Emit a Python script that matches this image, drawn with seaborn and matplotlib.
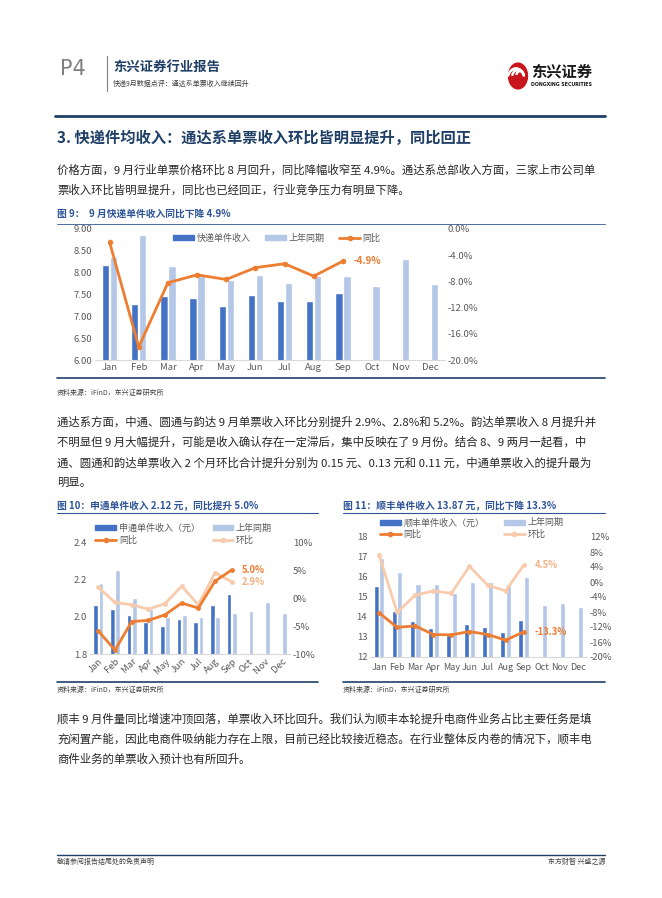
import numpy as np
import pandas as pd
import seaborn as sns
import matplotlib.pyplot as plt
from matplotlib.lines import Line2D
from matplotlib.patches import Patch, Circle, Wedge
from matplotlib.ticker import MultipleLocator, FuncFormatter

sns.set_theme(style="white")
plt.rcParams['font.family'] = ['Noto Sans CJK SC', 'DejaVu Sans']

W, H = 662, 898
months = ["Jan", "Feb", "Mar", "Apr", "May", "Jun", "Jul", "Aug", "Sep", "Oct", "Nov", "Dec"]

# 图9 快递单件收入
f9_cur = [8.18, 7.28, 7.47, 7.42, 7.24, 7.48, 7.35, 7.35, 7.53]
f9_prev = [8.36, 8.87, 8.15, 7.93, 7.84, 7.95, 7.76, 7.93, 7.93, 7.70, 8.31, 7.74]
f9_yoy = [-2.0, -18.0, -8.2, -7.0, -7.7, -5.9, -5.3, -7.2, -4.9]

# 图10 申通
st_cur = [2.06, 2.04, 2.01, 1.97, 1.95, 1.99, 1.97, 2.06, 2.12]
st_prev = [2.18, 2.25, 2.10, 2.04, 2.00, 2.01, 2.00, 2.00, 2.02, 2.03, 2.08, 2.02]
st_yoy = [-5.9, -9.3, -4.2, -4.0, -3.0, -0.9, -1.8, 3.0, 5.0]
st_mom = [1.9, -0.8, -1.2, -2.0, -1.0, 2.1, -1.2, 4.5, 2.9]

# 图11 顺丰
sf_cur = [15.57, 14.32, 13.80, 13.47, 13.10, 13.65, 13.52, 13.25, 13.87]
sf_prev = [16.95, 16.25, 15.63, 15.63, 15.20, 15.73, 15.73, 15.63, 15.98, 14.60, 14.70, 14.52]
sf_yoy = [-8.2, -12.1, -11.7, -14.0, -14.1, -13.2, -14.0, -15.5, -13.3]
sf_mom = [7.2, -8.1, -3.5, -2.4, -3.0, 4.2, -0.8, -2.4, 4.5]

C_CUR = "#4472C4"
C_PREV = "#B4C7E7"
C_YOY = "#ED7D31"
C_MOM = "#F8CBAD"
NAVY = "#1F3F66"
TBLUE = "#2F5597"
GRAY = "#595959"

fig = plt.figure(figsize=(W / 100, H / 100), dpi=100)
fig.patch.set_facecolor("white")


def fx(x):
    return x / W


def fy(y):
    return 1 - y / H


def hline(x0, x1, y, color, lw):
    fig.add_artist(Line2D([fx(x0), fx(x1)], [fy(y), fy(y)], color=color, lw=lw,
                          transform=fig.transFigure))


def txt(x, y, s, **kw):
    kw.setdefault("va", "center")
    fig.text(fx(x), fy(y), s, **kw)


def make_axes(l, t, r, b):
    return fig.add_axes([fx(l), fy(b), (r - l) / W, (b - t) / H])


def bars(ax, cur, prev, names, width, gap):
    n_missing = len(months) - len(cur)
    df = pd.DataFrame({
        "month": months * 2,
        "series": [names[0]] * 12 + [names[1]] * 12,
        "value": list(cur) + [np.nan] * n_missing + list(prev),
    })
    sns.barplot(data=df, x="month", y="value", hue="series", palette=[C_CUR, C_PREV],
                width=width, gap=gap, saturation=1, errorbar=None, legend=False, ax=ax)
    ax.set_xlabel("")
    ax.set_ylabel("")


def style(ax, ax2, fs=6.8):
    for a in (ax, ax2):
        for s in a.spines.values():
            s.set_visible(False)
        a.tick_params(length=0, labelsize=fs, labelcolor=GRAY, pad=2)
        a.grid(False)
    ax.spines["bottom"].set_visible(True)
    ax.spines["bottom"].set_color("#D9D9D9")
    ax.spines["bottom"].set_linewidth(0.8)
    ax.set_xlim(-0.5, 11.5)


def line_handle(color):
    return Line2D([], [], color=color, lw=2, marker="o", markersize=3)


# ---------------- header ----------------
txt(60, 69, "P4", fontsize=15, color="#7F7F7F", family=["DejaVu Sans"])
fig.add_artist(Line2D([fx(107), fx(107)], [fy(56), fy(91)], color="#7F7F7F", lw=0.8,
                      transform=fig.transFigure))
txt(113, 68, "东兴证券行业报告", fontsize=9.6, color=NAVY, fontweight="bold")
txt(113, 84, "快递9月数据点评：通达系单票收入继续回升", fontsize=5, color="#404040")
logo_c = (fx(518), fy(76))
fig.add_artist(Circle(logo_c, 9.5 / W, transform=fig.transFigure, color="#C8161D"))
for k in range(3):
    fig.add_artist(Wedge((fx(516 + k * 2), fy(80 - k * 2)), (9 - k * 2.4) / W, 20, 160,
                         width=1.0 / W, transform=fig.transFigure, color="white"))
txt(531, 72, "东兴证券", fontsize=11, color="#1A1A1A", fontweight="bold")
txt(531, 84, "DONGXING SECURITIES", fontsize=3.4, color="#1A1A1A", fontweight="bold",
    family=["DejaVu Sans"])
hline(55, 605, 116, NAVY, 2.0)

# ---------------- section ----------------
txt(57, 138, "3. 快递件均收入：通达系单票收入环比皆明显提升，同比回正", fontsize=11,
    color=NAVY, fontweight="bold")

body = dict(fontsize=8.2, color="#262626")
p1 = ["价格方面，9 月行业单票价格环比 8 月回升，同比降幅收窄至 4.9%。通达系总部收入方面，三家上市公司单",
      "票收入环比皆明显提升，同比也已经回正，行业竞争压力有明显下降。"]
for i, s in enumerate(p1):
    txt(57, 170 + i * 20, s, **body)

# ---------------- figure 9 ----------------
txt(57, 214, "图 9：  9 月快递单件收入同比下降 4.9%", fontsize=7, color=TBLUE, fontweight="bold")
hline(57, 605, 224, TBLUE, 0.6)
ax9 = make_axes(95, 229, 445, 360)
bars(ax9, f9_cur, f9_prev, ["快递单件收入", "上年同期"], 0.55, 0.1)
ax9b = ax9.twinx()
sns.lineplot(x=np.arange(len(f9_yoy)), y=f9_yoy, ax=ax9b, color=C_YOY, lw=2,
             marker="o", markersize=4, markeredgewidth=0)
style(ax9, ax9b)
ax9.set_ylim(6, 9)
ax9.yaxis.set_major_locator(MultipleLocator(0.5))
ax9.yaxis.set_major_formatter(FuncFormatter(lambda v, p: f"{v:.2f}"))
ax9b.set_ylim(-20, 0)
ax9b.yaxis.set_major_locator(MultipleLocator(4))
ax9b.yaxis.set_major_formatter(FuncFormatter(lambda v, p: f"{v:.1f}%"))
ax9b.text(8.35, f9_yoy[-1], f"{f9_yoy[-1]:.1f}%", color=C_YOY, fontsize=7, fontweight="bold",
          va="center", ha="left")
h9 = [Patch(color=C_CUR), Patch(color=C_PREV), line_handle(C_YOY)]
ax9b.legend(h9, ["快递单件收入", "上年同期", "同比"], ncol=3, loc="center",
            bbox_to_anchor=(0.52, 0.93), frameon=False, fontsize=6.5, handlelength=2.3,
            handleheight=0.45, handletextpad=0.3, columnspacing=1.6, labelcolor=GRAY)
hline(57, 605, 378, NAVY, 1.2)
txt(57, 393, "资料来源：iFinD，东兴证券研究所", fontsize=5, color="#404040", style="italic")

p2 = ["通达系方面，中通、圆通与韵达 9 月单票收入环比分别提升 2.9%、2.8%和 5.2%。韵达单票收入 8 月提升并",
      "不明显但 9 月大幅提升，可能是收入确认存在一定滞后，集中反映在了 9 月份。结合 8、9 两月一起看，中",
      "通、圆通和韵达单票收入 2 个月环比合计提升分别为 0.15 元、0.13 元和 0.11 元，中通单票收入的提升最为",
      "明显。"]
for i, s in enumerate(p2):
    txt(57, 422 + i * 20.3, s, **body)

# ---------------- figure 10 ----------------
txt(57, 506, "图 10：申通单件收入 2.12 元，同比提升 5.0%", fontsize=7, color=TBLUE, fontweight="bold")
hline(57, 318, 513, TBLUE, 0.8)
ax10 = make_axes(90, 542, 290, 654)
bars(ax10, st_cur, st_prev, ["申通单件收入（元）", "上年同期"], 0.62, 0.1)
ax10b = ax10.twinx()
sns.lineplot(x=np.arange(len(st_mom)), y=st_mom, ax=ax10b, color=C_MOM, lw=2,
             marker="o", markersize=3.5, markeredgewidth=0)
sns.lineplot(x=np.arange(len(st_yoy)), y=st_yoy, ax=ax10b, color=C_YOY, lw=2,
             marker="o", markersize=3.5, markeredgewidth=0)
style(ax10, ax10b)
ax10.set_ylim(1.8, 2.4)
ax10.yaxis.set_major_locator(MultipleLocator(0.2))
ax10.yaxis.set_major_formatter(FuncFormatter(lambda v, p: f"{v:.1f}"))
ax10b.set_ylim(-10, 10)
ax10b.yaxis.set_major_locator(MultipleLocator(5))
ax10b.yaxis.set_major_formatter(FuncFormatter(lambda v, p: f"{v:.0f}%"))
ax10.tick_params(axis="x", labelrotation=45)
for lab in ax10.get_xticklabels():
    lab.set_ha("right")
    lab.set_rotation_mode("anchor")
ax10b.text(8.6, st_yoy[-1], f"{st_yoy[-1]:.1f}%", color=C_YOY, fontsize=6.8,
           fontweight="bold", va="center", ha="left")
ax10b.text(8.6, st_mom[-1], f"{st_mom[-1]:.1f}%", color="#F4B183", fontsize=6.8,
           fontweight="bold", va="center", ha="left")
ax10b.legend([Patch(color=C_CUR), line_handle(C_YOY), Patch(color=C_PREV), line_handle(C_MOM)],
             ["申通单件收入（元）", "同比", "上年同期", "环比"],
             ncol=2, loc="lower left", bbox_to_anchor=(0.0, 0.93), frameon=False,
             fontsize=6.5, handlelength=2.3, handleheight=0.45, handletextpad=0.3,
             columnspacing=1.4, labelspacing=0.25, borderpad=0.1, labelcolor=GRAY)
hline(57, 318, 682, NAVY, 1.2)
txt(57, 690, "资料来源：iFinD，东兴证券研究所", fontsize=5, color="#404040", style="italic")

# ---------------- figure 11 ----------------
txt(343, 506, "图 11：顺丰单件收入 13.87 元，同比下降 13.3%", fontsize=7, color=TBLUE,
    fontweight="bold")
hline(343, 605, 513, TBLUE, 0.8)
ax11 = make_axes(370, 537, 587, 657)
bars(ax11, sf_cur, sf_prev, ["顺丰单件收入（元）", "上年同期"], 0.62, 0.1)
ax11b = ax11.twinx()
sns.lineplot(x=np.arange(len(sf_mom)), y=sf_mom, ax=ax11b, color=C_MOM, lw=2,
             marker="o", markersize=3.5, markeredgewidth=0)
sns.lineplot(x=np.arange(len(sf_yoy)), y=sf_yoy, ax=ax11b, color=C_YOY, lw=2,
             marker="o", markersize=3.5, markeredgewidth=0)
style(ax11, ax11b)
ax11.set_ylim(12, 18)
ax11.yaxis.set_major_locator(MultipleLocator(1))
ax11b.set_ylim(-20, 12)
ax11b.yaxis.set_major_locator(MultipleLocator(4))
ax11b.yaxis.set_major_formatter(FuncFormatter(lambda v, p: f"{v:.0f}%"))
ax11.tick_params(axis="x", labelsize=6.5, pad=4)
ax11b.text(8.6, sf_mom[-1], f"{sf_mom[-1]:.1f}%", color="#F4B183", fontsize=6.8,
           fontweight="bold", va="center", ha="left")
ax11b.text(8.6, sf_yoy[-1], f"{sf_yoy[-1]:.1f}%", color=C_YOY, fontsize=6.8,
           fontweight="bold", va="center", ha="left")
ax11b.legend([Patch(color=C_CUR), line_handle(C_YOY), Patch(color=C_PREV), line_handle(C_MOM)],
             ["顺丰单件收入（元）", "同比", "上年同期", "环比"],
             ncol=2, loc="lower left", bbox_to_anchor=(0.02, 0.94), frameon=False,
             fontsize=6.5, handlelength=2.3, handleheight=0.45, handletextpad=0.3,
             columnspacing=2.2, labelspacing=0.25, borderpad=0.1, labelcolor=GRAY)
hline(343, 605, 682, NAVY, 1.2)
txt(343, 690, "资料来源：iFinD，东兴证券研究所", fontsize=5, color="#404040", style="italic")

p3 = ["顺丰 9 月件量同比增速冲顶回落，单票收入环比回升。我们认为顺丰本轮提升电商件业务占比主要任务是填",
      "充闲置产能，因此电商件吸纳能力存在上限，目前已经比较接近稳态。在行业整体反内卷的情况下，顺丰电",
      "商件业务的单票收入预计也有所回升。"]
for i, s in enumerate(p3):
    txt(57, 719 + i * 20, s, **body)

# ---------------- footer ----------------
hline(57, 605, 855, NAVY, 1.0)
txt(57, 862, "敬请参阅报告结尾处的免责声明", fontsize=5, color="#404040")
txt(605, 862, "东方财智 兴盛之源", fontsize=5, color="#404040", ha="right")

fig.savefig("out.png", dpi=100, facecolor="white")
